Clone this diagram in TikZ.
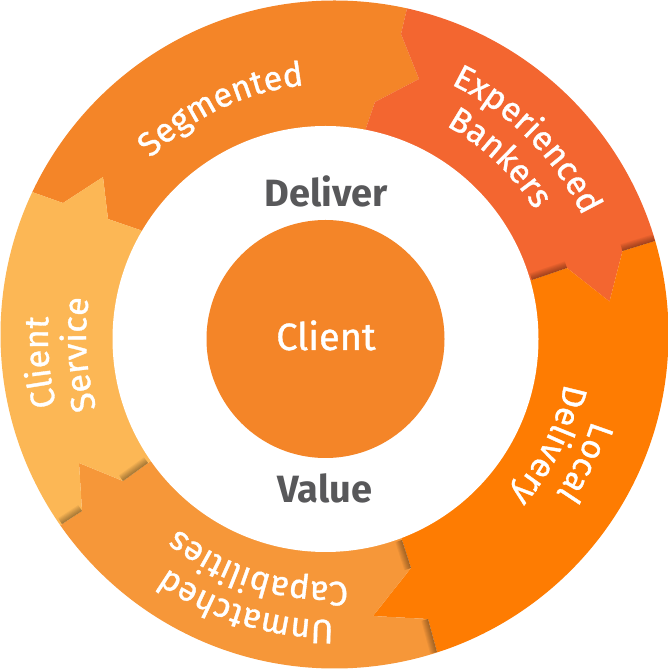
\documentclass[tikz,border=0pt]{standalone}
\usepackage{fontspec}
\setmainfont{Fira Sans}
\newfontfamily\lblfam[FakeBold=1]{Fira Sans}
\usetikzlibrary{calc,decorations.text}
\definecolor{segorange}{HTML}{F48528}
\definecolor{bankred}{HTML}{F36630}
\definecolor{localorange}{HTML}{FE7C02}
\definecolor{capaorange}{HTML}{F69739}
\definecolor{servlight}{HTML}{FCB755}
\definecolor{textgray}{HTML}{58585A}
\newcommand{\lblfont}{\lblfam\fontsize{34}{40}\selectfont}
\newcommand{\segpath}[2]{(hc) -- (i#1) -- (b#1) -- (p#1) -- (a#1) -- (o#1) -- (e#1) -- (m#1) -- (e#2) -- (o#2) -- (a#2) -- (p#2) -- (b#2) -- (i#2) -- cycle}
% label centred on an arc round the ring: angle, radius, text
\newcommand{\ringlabel}[3]{\path[lbltext=#3] ($(rc)+(#1+40:#2pt)$) arc[start angle=#1+40, end angle=#1-40, radius=#2pt];}

\begin{document}
\begin{tikzpicture}[x=1pt, y=1pt,
  lbltext/.style={decorate, decoration={text along path, text={|\lblfont|#1}, text align=center, text color=white}},
  shadowline/.style={line width=#1, black, opacity=0.05}]
  \fill[white] (0,0) rectangle (669,669);
  \useasboundingbox (0,0) rectangle (669,669);
  \coordinate (oc) at (334.5,334.5);
  \coordinate (hc) at (325.5,330);
  \coordinate (rc) at (330,332);
  % borders between the arrows: outer, step, tip, back, inner
  \coordinate (o1) at (407,660.5); \coordinate (a1) at (401,635); \coordinate (p1) at (419,590); \coordinate (b1) at (375,567); \coordinate (i1) at (366,541);
  \coordinate (o2) at (655,428); \coordinate (a2) at (622.5,418); \coordinate (p2) at (609.5,367.5); \coordinate (b2) at (567,401); \coordinate (i2) at (532,389);
  \coordinate (o3) at (437,17); \coordinate (a3) at (428,50); \coordinate (p3) at (373,53); \coordinate (b3) at (411,101); \coordinate (i3) at (402,129);
  \coordinate (o4) at (62,145); \coordinate (a4) at (82,158); \coordinate (p4) at (79,206); \coordinate (b4) at (123,188); \coordinate (i4) at (148,206);
  \coordinate (o5) at (32,477); \coordinate (a5) at (63,466); \coordinate (p5) at (103,492); \coordinate (b5) at (108,450); \coordinate (i5) at (140,439);
  \foreach \k in {1,...,5}
    \coordinate (e\k) at ($(rc)!1.6!(o\k)$);
  \foreach \s/\t in {5/1, 1/2, 2/3, 3/4, 4/5} {
    \coordinate (n\s) at ($(e\s)!0.5!(e\t)$);
    \coordinate (m\s) at ($(rc)!700pt!(n\s)$);
  }
  \begin{scope}
    \clip (oc) circle[radius=334];
    \foreach \s/\t/\col in {5/1/segorange, 1/2/bankred, 2/3/localorange, 3/4/capaorange, 4/5/servlight}
      \fill[\col] \segpath{\s}{\t};
    % soft shadow along the notches
    \foreach \s/\t/\k in {1/2/2, 3/4/3, 4/5/4} {
      \begin{scope}
        \clip \segpath{\s}{\t};
        \foreach \w in {2,4,...,14}
          \draw[shadowline=\w pt] (o\k) -- (a\k) (b\k) -- (i\k);
      \end{scope}
    }
  \end{scope}
  \fill[white] (hc) circle[radius=213];
  \fill[segorange] (hc) circle[radius=119];
  \node[anchor=base, inner sep=0pt, text=white, font=\lblfam\fontsize{38}{44}\selectfont] (client) at (326,319) {Client};
  \node[anchor=base, inner sep=0pt, text=textgray, font=\fontsize{38}{44}\selectfont\bfseries] (deliver) at (326,462) {Deliver};
  \node[anchor=base, inner sep=0pt, text=textgray, font=\fontsize{38}{44}\selectfont\bfseries] (value) at (325,166) {Value};
  % labels along the ring
  \ringlabel{115.5}{253}{Segmented}
  \ringlabel{45}{280}{Experienced}
  \ringlabel{46.5}{241}{Bankers}
  \ringlabel{-26.2}{275}{Local}
  \ringlabel{-26.2}{239}{Delivery}
  \ringlabel{-107.2}{283}{Unmatched}
  \ringlabel{-107.1}{245}{Capabilities}
  \ringlabel{185}{282}{Client}
  \ringlabel{184}{244}{Service}
\end{tikzpicture}
\end{document}
